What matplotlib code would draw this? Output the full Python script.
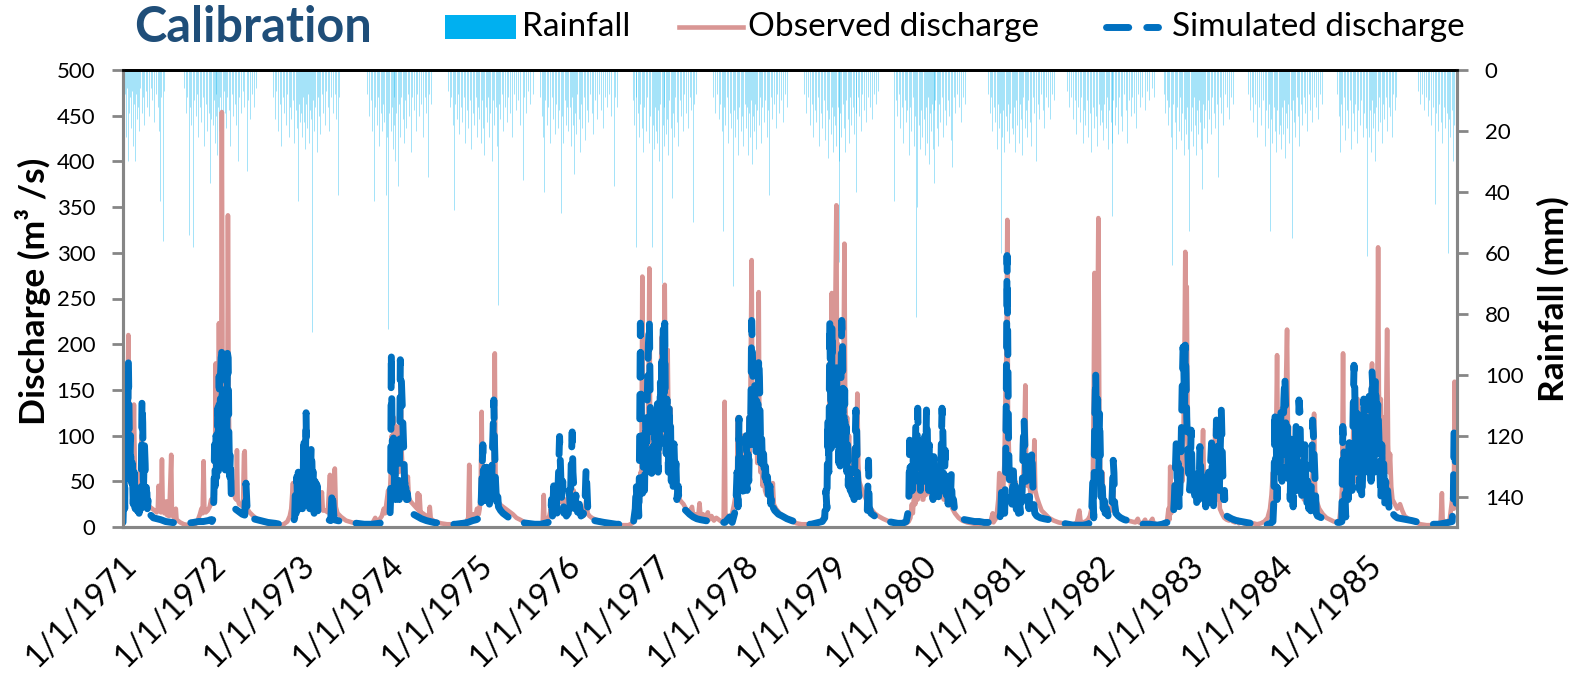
import numpy as np
import pandas as pd
import matplotlib
matplotlib.use("Agg")
import matplotlib.pyplot as plt
from matplotlib.lines import Line2D
from matplotlib.patches import Rectangle
from matplotlib.transforms import ScaledTranslation

plt.rcParams['font.family'] = ['Lato', 'DejaVu Sans']

YEARS = list(range(1971, 1986))
TICK_LABELS = [f"1/1/{y}" for y in YEARS]

# ---------------- Observed discharge (day of year, m3/s) ----------------
OBS_1971 = [(0,35),(4,55),(8,40),(12,90),(16,60),(20,150),(22,210),(25,120),(29,80),(33,60),(37,95),(41,70),(45,134),(49,55),(53,45),(58,35),(62,50),(67,40),(72,70),(77,101),(81,55),(86,40),(92,30),(100,26),(110,22),(120,20),(130,18),(138,16),(143,20),(146,45),(149,18),(156,16),(160,74),(163,25),(170,15),(178,28),(181,13),(190,12),(198,79),(201,14),(210,10),(217,20),(220,8),(235,5),(250,3),(270,2),(290,2),(300,4),(308,8),(316,14),(322,20),(327,15),(331,72),(334,22),(340,16),(348,18),(356,22),(362,30)]
OBS_1972 = [(0,25),(4,30),(8,50),(12,35),(16,179),(19,60),(23,120),(26,90),(29,223),(32,110),(35,150),(38,100),(41,454),(44,160),(47,120),(50,100),(53,180),(56,90),(60,120),(63,80),(66,341),(69,140),(72,90),(76,70),(80,55),(85,45),(90,40),(95,32),(100,30),(103,84),(106,30),(112,25),(120,24),(128,22),(132,80),(135,83),(138,25),(145,20),(155,16),(170,12),(185,9),(205,6),(230,4),(255,3),(275,2),(295,3),(310,6),(320,12),(326,20),(333,48),(337,18),(343,28),(350,40),(355,30),(360,45)]
OBS_1973 = [(0,40),(4,55),(8,35),(12,60),(16,45),(20,75),(24,50),(28,70),(32,40),(36,55),(40,35),(45,50),(50,30),(56,40),(62,25),(70,22),(78,20),(86,38),(90,18),(100,18),(110,16),(119,57),(123,20),(130,25),(139,64),(143,22),(150,15),(165,11),(185,7),(210,5),(235,3),(260,2),(280,2),(295,5),(305,10),(312,6),(322,8),(332,12),(340,20),(346,15),(352,28),(358,40),(362,30)]
OBS_1974 = [(0,35),(4,60),(8,100),(12,70),(16,120),(20,90),(24,110),(28,70),(32,90),(36,60),(40,100),(45,161),(49,80),(53,60),(58,50),(63,45),(68,40),(74,55),(78,32),(85,28),(95,25),(105,22),(112,20),(115,37),(118,18),(122,35),(126,16),(135,15),(145,13),(160,11),(164,22),(168,9),(185,6),(210,4),(235,3),(260,3),(280,3),(295,5),(305,4),(315,6),(322,10),(326,68),(330,12),(338,10),(345,14),(352,12),(358,20),(362,18)]
OBS_1975 = [(0,14),(4,20),(8,40),(12,126),(15,50),(19,35),(23,60),(27,40),(31,55),(35,30),(40,50),(45,35),(50,45),(55,30),(60,70),(64,100),(66,190),(69,60),(73,35),(80,28),(90,24),(100,22),(110,20),(125,17),(140,14),(155,10),(170,8),(190,5),(210,3),(235,2),(255,2),(263,5),(267,35),(270,6),(280,8),(290,12),(296,20),(300,15),(306,35),(312,25),(318,40),(324,20),(330,45),(336,28),(342,40),(348,22),(355,30),(361,20)]
OBS_1976 = [(0,25),(5,35),(10,20),(15,45),(20,30),(25,40),(30,20),(38,25),(45,15),(55,14),(65,12),(72,20),(78,33),(82,15),(90,12),(100,10),(115,8),(130,7),(150,5),(170,4),(190,3),(210,2),(230,2),(250,2),(265,4),(275,8),(285,12),(292,30),(296,20),(300,60),(303,40),(307,274),(310,80),(314,60),(318,100),(322,70),(326,120),(330,90),(333,170),(336,283),(339,110),(343,80),(347,120),(351,70),(355,100),(359,60),(363,80)]
OBS_1977 = [(0,70),(4,110),(8,60),(12,90),(16,150),(20,208),(24,100),(28,140),(33,265),(37,120),(41,90),(45,194),(49,100),(53,80),(57,130),(61,70),(66,90),(71,50),(76,60),(82,40),(88,45),(94,30),(100,28),(110,25),(120,20),(127,18),(135,16),(145,22),(150,12),(160,14),(170,10),(176,26),(180,12),(190,14),(200,9),(210,16),(215,8),(225,12),(235,7),(245,10),(255,8),(265,6),(275,8),(279,137),(282,15),(290,10),(300,8),(310,15),(318,25),(324,35),(330,60),(333,120),(336,45),(340,70),(344,40),(348,80),(352,50),(356,100),(360,60),(363,90)]
OBS_1978 = [(0,60),(4,90),(8,50),(12,120),(16,80),(20,150),(25,292),(28,120),(32,90),(36,150),(40,100),(44,130),(48,70),(51,110),(54,257),(57,100),(61,60),(65,80),(70,45),(75,60),(80,40),(86,35),(92,45),(98,30),(104,38),(108,28),(112,48),(116,25),(125,20),(140,15),(155,12),(170,9),(190,6),(210,4),(230,3),(250,3),(270,2),(290,3),(305,5),(315,8),(325,15),(333,30),(338,60),(342,100),(346,180),(350,130),(354,256),(358,150),(362,200)]
OBS_1979 = [(0,120),(4,250),(8,352),(11,150),(15,200),(19,120),(23,160),(27,110),(31,180),(35,140),(38,200),(41,310),(44,150),(48,100),(52,120),(56,80),(60,100),(65,60),(70,70),(75,50),(80,60),(85,45),(90,80),(94,146),(98,70),(102,50),(108,45),(115,40),(122,35),(130,30),(140,25),(150,20),(165,15),(180,12),(200,9),(225,6),(250,4),(270,3),(287,5),(295,4),(305,6),(312,10),(318,25),(322,15),(328,40),(332,25),(338,55),(342,30),(348,60),(352,35),(358,50),(362,30)]
OBS_1980 = [(0,30),(5,45),(10,35),(15,60),(20,40),(25,55),(30,35),(35,50),(40,30),(45,45),(50,35),(55,60),(60,40),(66,55),(72,35),(78,50),(84,30),(90,45),(96,28),(102,40),(107,55),(112,25),(120,20),(130,15),(145,10),(160,7),(180,5),(200,4),(220,3),(240,4),(260,3),(275,5),(285,15),(288,5),(300,10),(308,30),(312,59),(316,20),(322,25),(328,40),(333,70),(338,150),(342,200),(345,336),(348,120),(352,80),(356,60),(360,45),(364,40)]
OBS_1981 = [(0,40),(4,60),(8,35),(12,50),(16,30),(22,40),(28,30),(35,45),(42,35),(48,80),(53,155),(57,60),(62,45),(68,50),(75,35),(82,45),(87,60),(90,95),(94,40),(100,33),(110,25),(120,18),(135,14),(150,10),(170,7),(190,5),(210,4),(230,3),(250,3),(265,5),(270,12),(275,18),(280,6),(295,5),(310,8),(318,12),(325,20),(330,45),(334,150),(337,278),(341,120),(345,100),(349,200),(353,338),(357,120),(361,60)]
OBS_1982 = [(0,40),(4,60),(8,35),(12,30),(18,25),(25,22),(32,20),(40,18),(46,25),(49,40),(52,18),(60,15),(70,12),(80,10),(95,8),(110,7),(125,6),(140,5),(150,9),(155,5),(170,4),(180,8),(185,4),(200,5),(210,9),(215,4),(230,3),(245,3),(260,3),(270,6),(276,20),(280,8),(283,66),(287,15),(292,20),(298,35),(303,20),(308,50),(313,30),(318,60),(323,35),(328,90),(333,50),(338,110),(342,200),(345,301),(348,150),(351,263),(355,100),(359,70),(363,55)]
OBS_1983 = [(0,45),(5,70),(10,40),(15,60),(20,35),(26,55),(32,30),(38,50),(44,35),(49,70),(53,106),(57,45),(62,35),(67,55),(72,30),(78,45),(84,30),(90,40),(96,30),(100,70),(103,108),(107,40),(112,30),(118,48),(122,20),(130,15),(140,10),(150,8),(160,7),(170,10),(175,6),(185,5),(195,8),(200,4),(210,6),(220,4),(232,3),(245,3),(260,4),(275,3),(290,4),(305,6),(318,10),(328,20),(334,35),(340,60),(345,30),(350,70),(354,120),(357,188),(361,60)]
OBS_1984 = [(0,70),(4,100),(8,60),(12,130),(16,80),(20,120),(24,60),(28,150),(33,216),(37,90),(41,110),(45,60),(50,90),(55,45),(60,70),(65,40),(70,55),(74,70),(78,95),(82,45),(88,35),(95,45),(102,30),(110,40),(118,30),(125,35),(132,28),(138,60),(144,124),(148,40),(155,28),(165,20),(180,14),(195,10),(210,8),(225,6),(238,5),(248,8),(255,25),(259,45),(263,190),(266,60),(270,35),(275,50),(280,30),(286,60),(290,35),(295,80),(300,45),(305,110),(309,60),(314,90),(318,50),(323,140),(327,70),(332,100),(336,60),(341,130),(345,80),(350,110),(354,70),(358,120),(362,80)]
OBS_1985 = [(0,80),(4,130),(8,90),(12,150),(16,179),(20,90),(24,120),(28,70),(32,140),(36,100),(39,200),(41,306),(44,150),(48,100),(52,140),(56,80),(60,120),(64,70),(68,100),(72,60),(75,150),(78,216),(82,90),(86,60),(90,80),(95,44),(100,30),(110,25),(120,20),(131,25),(140,18),(150,12),(160,10),(175,7),(195,5),(215,3),(240,2),(265,2),(285,3),(298,6),(303,37),(306,8),(320,5),(335,8),(345,30),(349,45),(352,20),(355,159),(359,100),(364,60)]

# ---------------- Simulated discharge (day of year, m3/s) ----------------
SIM_1971 = [(0,5),(2,25),(4,60),(7,20),(10,100),(13,50),(16,150),(19,80),(22,183),(25,120),(28,60),(31,100),(34,40),(38,70),(42,25),(46,60),(50,20),(54,45),(58,18),(62,35),(66,15),(70,40),(74,20),(78,139),(81,114),(84,40),(88,91),(91,69),(94,30),(97,50),(100,20),(104,30),(110,14),(125,10),(140,9),(155,8),(175,6),(200,5),(230,4),(260,4),(290,5),(310,6),(330,6),(350,7),(360,8)]
SIM_1972 = [(0,6),(4,8),(8,30),(11,90),(14,45),(17,100),(20,50),(24,130),(27,60),(30,165),(33,100),(36,170),(40,198),(43,120),(46,150),(49,90),(52,130),(55,60),(58,110),(61,80),(64,190),(67,185),(70,100),(73,55),(76,80),(80,30),(84,22),(95,20),(105,18),(115,16),(125,14),(135,13),(140,48),(144,24),(148,12),(170,9),(200,7),(230,5),(260,4),(280,3),(300,4),(320,5),(336,6),(340,10),(343,40),(346,15),(349,55),(352,25),(355,60),(358,30),(361,50),(364,20)]
SIM_1973 = [(0,40),(3,60),(6,20),(9,55),(12,100),(15,40),(18,70),(21,125),(24,50),(27,80),(30,30),(33,65),(36,20),(39,55),(42,88),(45,70),(48,30),(51,60),(54,15),(58,50),(62,20),(66,55),(70,12),(80,10),(95,9),(110,8),(122,7),(128,40),(132,25),(136,8),(150,7),(170,6),(200,5),(230,4),(260,3),(290,3),(320,4),(340,5),(355,7),(362,8)]
SIM_1974 = [(0,8),(3,30),(6,192),(9,110),(12,60),(15,100),(18,40),(21,85),(24,30),(27,60),(31,35),(35,50),(39,30),(43,183),(46,170),(49,148),(52,125),(55,100),(58,77),(61,45),(64,55),(68,30),(72,37),(76,26),(80,20),(90,15),(110,12),(130,9),(150,7),(180,5),(210,4),(240,3),(270,3),(300,4),(320,5),(340,7),(355,8),(362,9)]
SIM_1975 = [(0,10),(5,14),(10,25),(14,60),(17,90),(20,40),(24,65),(28,25),(32,70),(36,45),(40,55),(44,25),(48,60),(52,30),(56,80),(59,106),(62,139),(65,90),(69,50),(73,28),(77,40),(81,22),(90,18),(100,15),(120,11),(140,8),(170,5),(200,4),(230,3),(255,3),(270,4),(285,5),(295,8),(299,30),(303,12),(308,45),(313,20),(318,35),(322,15),(328,60),(332,99),(336,66),(340,30),(345,50),(350,15),(355,20),(360,12)]
SIM_1976 = [(3,15),(7,40),(11,20),(15,70),(19,104),(22,60),(26,42),(30,20),(34,35),(40,15),(48,25),(55,12),(65,14),(72,30),(76,64),(80,40),(84,12),(95,9),(110,7),(130,6),(150,5),(175,4),(200,3),(230,3),(255,2),(270,4),(278,20),(282,48),(286,10),(290,30),(293,10),(296,100),(299,223),(302,150),(305,60),(308,37),(312,80),(316,40),(320,120),(324,60),(328,150),(332,200),(336,226),(339,146),(342,90),(346,50),(350,120),(354,70),(358,100),(362,60)]
SIM_1977 = [(0,80),(3,140),(6,60),(9,120),(12,90),(15,160),(18,110),(21,190),(24,140),(27,221),(30,146),(33,223),(36,120),(39,80),(42,140),(45,100),(48,60),(51,135),(54,73),(57,110),(60,50),(63,80),(67,40),(71,91),(75,55),(79,70),(83,30),(88,45),(92,25),(100,22),(110,20),(120,18),(135,14),(150,11),(165,9),(180,8),(200,7),(220,6),(240,5),(260,5),(280,5),(290,8),(300,11),(310,5),(320,15),(326,30),(330,60),(334,22),(338,119),(341,60),(345,40),(349,70),(353,30),(357,50),(361,80)]
SIM_1978 = [(0,60),(3,100),(6,40),(10,80),(13,50),(17,120),(20,90),(23,160),(25,226),(28,194),(31,146),(34,110),(37,160),(40,120),(43,80),(46,140),(50,100),(54,186),(57,164),(60,120),(63,70),(66,100),(70,60),(74,80),(78,50),(82,66),(86,40),(90,55),(95,30),(100,45),(104,25),(108,35),(112,22),(120,18),(135,14),(150,12),(170,9),(190,7),(210,5),(230,4),(250,3),(270,3),(285,4),(300,5),(315,6),(325,10),(330,40),(334,20),(338,120),(342,60),(346,226),(349,150),(352,80),(355,220),(358,100),(362,140)]
SIM_1979 = [(0,90),(3,160),(6,110),(9,180),(12,90),(15,140),(18,70),(21,120),(24,60),(27,160),(30,226),(33,200),(36,130),(39,100),(42,150),(45,80),(48,110),(51,60),(54,90),(57,45),(61,70),(65,40),(69,60),(73,35),(77,55),(81,30),(85,90),(88,128),(91,113),(94,60),(98,40),(102,30),(108,25),(115,22),(125,20),(135,18),(140,73),(143,22),(150,15),(165,12),(180,10),(200,8),(220,6),(240,5),(260,4),(280,4),(295,6),(305,20),(309,95),(312,30),(316,70),(320,40),(325,90),(330,50),(334,110),(338,60),(342,130),(345,90),(349,70),(353,40),(357,80),(361,50)]
SIM_1980 = [(0,80),(3,50),(7,100),(10,60),(13,128),(16,113),(19,60),(22,40),(25,90),(28,50),(31,75),(34,35),(37,60),(40,30),(43,77),(46,44),(50,60),(54,30),(58,50),(62,25),(66,70),(70,40),(74,95),(77,130),(80,110),(83,60),(86,40),(90,84),(94,35),(98,55),(102,25),(106,50),(110,20),(115,58),(119,26),(124,30),(130,15),(138,12),(150,10),(170,8),(190,7),(210,6),(230,6),(250,5),(270,5),(290,4),(310,4),(318,15),(322,44),(326,20),(330,35),(334,15),(338,60),(341,150),(344,297),(347,200),(350,100),(353,55),(356,40),(360,30),(364,25)]
SIM_1981 = [(0,40),(4,62),(8,30),(12,45),(16,19),(20,30),(25,15),(30,25),(35,12),(40,40),(44,90),(48,117),(52,80),(56,50),(60,77),(64,30),(68,20),(72,40),(76,60),(80,84),(84,44),(88,25),(92,15),(100,12),(115,10),(130,9),(150,8),(170,6),(190,5),(210,4),(230,3),(250,2),(270,2),(290,2),(310,3),(320,5),(326,20),(330,50),(334,10),(338,120),(342,168),(346,80),(350,140),(354,55),(358,124),(362,73)]
SIM_1982 = [(0,30),(4,45),(8,20),(12,35),(16,15),(22,20),(28,12),(35,11),(42,15),(46,44),(49,73),(52,59),(55,25),(60,15),(70,12),(80,10),(95,8),(110,7),(125,6),(140,5),(152,4),(175,3),(200,3),(230,2),(250,3),(270,5),(285,6),(295,7),(300,30),(304,60),(308,95),(312,40),(316,70),(320,20),(324,50),(328,90),(332,150),(336,197),(339,175),(342,130),(345,199),(348,168),(351,120),(354,95),(358,60),(362,40)]
SIM_1983 = [(0,50),(4,106),(8,60),(12,37),(16,50),(20,26),(24,45),(28,20),(32,60),(36,30),(40,88),(44,62),(48,35),(52,55),(56,26),(60,40),(64,22),(68,50),(72,30),(76,60),(80,25),(84,70),(88,92),(92,40),(96,22),(100,80),(104,50),(108,117),(111,113),(114,84),(117,51),(120,40),(124,90),(128,128),(131,92),(134,60),(138,30),(141,40),(144,15),(150,12),(170,9),(190,7),(210,6),(230,5),(250,4),(270,3),(290,3),(310,2),(320,3),(330,4),(340,6),(344,30),(348,128),(351,60),(354,90),(357,30),(361,70)]
SIM_1984 = [(0,120),(4,70),(8,128),(12,50),(16,90),(20,140),(24,165),(27,132),(30,80),(34,110),(38,45),(42,90),(46,30),(50,99),(54,60),(58,22),(62,70),(66,40),(70,110),(74,73),(78,40),(82,139),(86,125),(90,60),(94,30),(98,80),(102,45),(106,90),(110,55),(114,25),(118,50),(122,20),(126,35),(130,15),(134,60),(138,117),(141,103),(144,80),(147,55),(150,37),(153,15),(158,12),(175,10),(195,8),(215,6),(235,5),(250,5),(258,6),(262,110),(265,95),(268,73),(271,37),(274,11),(280,60),(284,30),(288,100),(292,50),(296,80),(300,40),(304,120),(308,177),(311,154),(314,100),(318,60),(322,124),(325,110),(328,70),(332,40),(336,90),(340,30),(344,60),(348,140),(352,95),(356,60),(360,120),(364,80)]
SIM_1985 = [(0,60),(4,143),(8,95),(12,50),(16,170),(19,154),(22,100),(26,60),(30,161),(33,139),(36,80),(40,135),(44,99),(48,60),(52,30),(56,90),(60,40),(64,70),(68,25),(72,50),(76,30),(80,40),(86,20),(92,25),(100,15),(110,12),(120,10),(140,9),(160,8),(180,7),(195,6),(210,5),(230,4),(250,3),(270,3),(290,3),(310,4),(330,5),(345,6),(350,30),(353,110),(356,95),(359,60),(362,20),(364,10)]

# ---------------- Rainfall (day of year, mm) ----------------
RAIN_1971 = [(2,12),(6,18),(10,8),(14,22),(17,6),(20,30),(24,14),(28,9),(32,19),(36,7),(40,25),(44,11),(49,30),(53,8),(57,16),(61,12),(66,20),(71,6),(76,14),(82,9),(88,18),(94,7),(100,12),(107,15),(114,6),(121,10),(128,17),(135,8),(142,12),(148,20),(152,43),(158,9),(164,56),(170,7),(252,6),(258,14),(264,9),(270,54),(275,12),(280,18),(287,58),(292,10),(298,15),(304,8),(310,22),(316,12),(322,17),(328,9),(334,25),(340,11),(346,20),(352,14),(357,37),(362,16)]
RAIN_1972 = [(3,18),(7,10),(11,24),(15,8),(19,15),(23,28),(27,12),(31,20),(35,9),(39,16),(44,22),(49,7),(54,14),(59,19),(64,9),(70,13),(76,25),(82,8),(88,15),(95,11),(101,18),(107,30),(113,9),(120,14),(127,7),(134,12),(143,33),(150,10),(158,16),(166,8),(175,12),(182,6),(252,9),(258,16),(265,7),(272,20),(278,11),(285,25),(291,9),(297,14),(303,18),(309,8),(315,22),(321,12),(327,16),(333,10),(339,24),(345,13),(349,19),(353,43),(358,11),(363,17)]
RAIN_1973 = [(2,14),(6,22),(10,9),(14,17),(18,26),(22,11),(26,19),(30,8),(34,24),(38,13),(42,16),(45,86),(49,10),(54,20),(59,12),(64,27),(69,9),(74,15),(80,21),(86,8),(92,14),(98,18),(104,7),(110,12),(117,20),(124,9),(131,14),(138,8),(145,16),(152,41),(158,9),(272,8),(279,15),(286,10),(292,20),(300,43),(305,12),(311,18),(317,9),(322,25),(328,14),(333,20),(338,11),(343,17),(349,41),(353,22),(357,85),(361,14)]
RAIN_1974 = [(3,20),(7,12),(11,26),(15,9),(19,18),(23,30),(27,14),(33,38),(37,11),(42,22),(47,9),(52,16),(57,24),(62,10),(68,19),(74,8),(80,15),(86,27),(92,9),(99,13),(106,20),(113,8),(120,15),(128,11),(136,22),(144,9),(150,14),(156,35),(162,8),(170,11),(238,7),(245,12),(252,9),(258,18),(262,46),(268,11),(274,16),(280,8),(286,21),(292,12),(298,17),(304,9),(310,24),(316,13),(322,19),(328,10),(334,26),(340,14),(346,18),(352,9),(358,22),(363,12)]
RAIN_1975 = [(3,16),(8,24),(13,10),(18,19),(23,28),(28,12),(33,17),(38,9),(43,22),(48,14),(53,30),(58,10),(63,18),(69,12),(74,25),(78,77),(83,11),(89,16),(95,8),(101,20),(108,12),(115,17),(122,9),(130,14),(138,22),(146,8),(154,13),(162,10),(170,18),(180,36),(188,9),(196,14),(204,7),(212,11),(222,8),(250,9),(258,15),(264,22),(267,40),(272,10),(279,18),(286,12),(293,24),(300,9),(306,16),(312,21),(318,11),(324,19),(330,13),(336,47),(341,15),(347,24),(353,10),(359,18),(364,12)]
RAIN_1976 = [(3,20),(8,12),(13,25),(18,9),(22,18),(25,34),(30,14),(35,21),(40,8),(45,16),(50,27),(55,11),(61,19),(67,9),(73,23),(79,13),(85,17),(92,8),(99,14),(106,21),(113,10),(120,16),(128,8),(136,13),(145,19),(153,9),(161,12),(170,8),(180,15),(189,38),(196,9),(204,12),(268,10),(274,18),(279,9),(283,58),(288,14),(293,22),(298,11),(304,19),(310,27),(315,12),(321,20),(327,9),(333,24),(339,15),(345,58),(350,18),(355,26),(360,12),(364,20)]
RAIN_1977 = [(3,24),(7,13),(11,30),(15,11),(20,70),(24,18),(28,25),(32,12),(37,21),(42,16),(47,28),(52,10),(57,19),(61,42),(66,14),(71,22),(76,9),(82,17),(88,25),(94,10),(100,15),(107,20),(114,8),(121,14),(128,19),(135,9),(142,13),(148,50),(154,11),(160,8),(232,9),(240,14),(248,8),(255,16),(262,11),(267,20),(271,53),(276,12),(282,18),(288,9),(294,24),(300,14),(306,19),(312,71),(317,13),(322,22),(328,16),(334,28),(340,12),(346,20),(351,15),(356,25),(361,11)]
RAIN_1978 = [(3,19),(7,12),(11,28),(15,14),(19,22),(23,10),(27,31),(31,15),(35,20),(39,11),(44,26),(49,13),(54,18),(59,9),(64,24),(69,12),(74,17),(80,10),(86,22),(92,13),(98,41),(104,9),(110,16),(117,11),(124,19),(131,8),(138,14),(146,10),(154,17),(162,8),(170,12),(242,8),(250,14),(258,9),(265,18),(272,11),(279,22),(285,13),(291,17),(297,9),(303,25),(309,14),(315,19),(321,10),(327,23),(333,13),(339,29),(344,16),(349,21),(354,12),(359,27),(364,15)]
RAIN_1979 = [(3,18),(8,25),(13,12),(17,30),(20,63),(24,14),(29,22),(34,11),(39,19),(44,27),(49,10),(54,16),(59,24),(64,9),(70,18),(76,12),(82,21),(88,14),(90,40),(95,9),(101,15),(108,20),(115,8),(122,13),(130,17),(138,9),(146,12),(154,16),(162,8),(170,11),(180,7),(246,43),(252,10),(258,15),(264,8),(270,19),(276,12),(282,24),(288,10),(294,17),(300,13),(306,28),(311,12),(316,20),(321,9),(326,25),(331,15),(336,81),(341,45),(346,18),(351,26),(356,13),(361,22)]
RAIN_1980 = [(2,16),(6,28),(10,12),(14,24),(18,9),(22,31),(26,14),(30,20),(34,11),(38,26),(42,13),(45,37),(50,10),(55,19),(60,25),(65,11),(70,17),(76,9),(82,22),(88,13),(94,18),(100,10),(106,15),(112,23),(119,32),(125,9),(132,14),(140,8),(148,12),(156,17),(164,9),(172,11),(265,8),(272,14),(278,9),(284,20),(290,12),(296,17),(302,26),(307,11),(312,19),(316,14),(320,60),(324,22),(328,13),(333,27),(338,15),(343,20),(348,11),(353,24),(358,14),(363,19)]
RAIN_1981 = [(3,21),(7,12),(11,27),(15,10),(20,18),(25,24),(30,11),(35,16),(40,28),(45,9),(50,19),(55,13),(60,22),(66,10),(72,17),(78,25),(84,9),(90,14),(98,30),(104,11),(110,16),(117,8),(124,13),(131,19),(138,9),(146,12),(154,16),(162,8),(172,10),(224,7),(232,12),(240,9),(248,16),(256,10),(263,21),(270,12),(276,17),(282,9),(288,24),(294,13),(300,18),(306,10),(312,22),(318,14),(324,27),(330,12),(336,19),(342,15),(348,25),(354,11),(359,18),(364,13)]
RAIN_1982 = [(3,17),(8,23),(13,11),(18,19),(23,9),(28,26),(33,13),(38,17),(42,24),(45,48),(50,10),(56,18),(62,12),(68,21),(74,9),(80,15),(87,20),(94,8),(100,13),(107,24),(114,10),(121,15),(128,9),(136,14),(144,19),(152,8),(160,12),(168,9),(178,13),(188,7),(198,10),(208,6),(218,9),(256,8),(262,14),(268,10),(274,18),(280,12),(286,22),(291,64),(296,11),(302,17),(308,26),(313,12),(318,20),(323,9),(328,23),(333,14),(338,28),(343,16),(348,21),(353,12),(357,26),(361,53)]
RAIN_1983 = [(3,20),(7,12),(11,25),(15,9),(19,18),(23,28),(27,13),(31,21),(35,10),(39,17),(44,26),(49,39),(53,11),(58,19),(63,13),(68,24),(73,10),(79,16),(85,21),(91,9),(97,14),(103,19),(109,11),(115,35),(121,9),(128,14),(135,18),(142,8),(150,12),(158,16),(166,9),(174,11),(236,8),(244,13),(252,9),(260,17),(268,11),(276,22),(284,12),(292,18),(300,10),(306,25),(312,13),(318,19),(323,11),(328,53),(333,16),(338,24),(343,12),(348,20),(353,27),(358,13),(363,21)]
RAIN_1984 = [(3,18),(7,26),(11,12),(15,21),(19,10),(24,29),(28,14),(33,19),(38,11),(43,24),(48,13),(53,55),(57,10),(62,17),(67,22),(72,9),(78,15),(84,25),(90,11),(96,18),(102,9),(108,14),(115,20),(122,8),(129,13),(136,17),(144,9),(152,12),(160,16),(168,8),(176,11),(240,8),(246,15),(250,27),(255,11),(260,18),(266,9),(272,23),(278,13),(284,19),(290,10),(296,26),(302,14),(308,20),(314,11),(320,24),(326,13),(332,18),(338,10),(344,22),(350,14),(356,19),(361,61)]
RAIN_1985 = [(3,22),(7,13),(11,27),(15,10),(19,19),(24,14),(29,30),(34,12),(39,20),(44,9),(49,17),(55,24),(61,11),(67,16),(73,9),(79,20),(85,12),(91,15),(98,22),(104,8),(110,13),(116,9),(203,7),(212,11),(220,8),(228,13),(236,9),(244,15),(252,10),(260,18),(267,12),(275,44),(280,14),(286,20),(292,11),(298,17),(304,24),(310,12),(316,19),(322,14),(328,60),(333,16),(338,22),(343,13),(349,30),(354,18),(359,25),(364,14)]

OBS = [OBS_1971, OBS_1972, OBS_1973, OBS_1974, OBS_1975, OBS_1976, OBS_1977, OBS_1978,
       OBS_1979, OBS_1980, OBS_1981, OBS_1982, OBS_1983, OBS_1984, OBS_1985]
SIM = [SIM_1971, SIM_1972, SIM_1973, SIM_1974, SIM_1975, SIM_1976, SIM_1977, SIM_1978,
       SIM_1979, SIM_1980, SIM_1981, SIM_1982, SIM_1983, SIM_1984, SIM_1985]
RAIN = [RAIN_1971, RAIN_1972, RAIN_1973, RAIN_1974, RAIN_1975, RAIN_1976, RAIN_1977, RAIN_1978,
        RAIN_1979, RAIN_1980, RAIN_1981, RAIN_1982, RAIN_1983, RAIN_1984, RAIN_1985]


def build(year_lists):
    dates, vals = [], []
    for y, pts in zip(YEARS, year_lists):
        base = pd.Timestamp(year=y, month=1, day=1)
        for d, v in pts:
            dates.append(base + pd.Timedelta(days=d))
            vals.append(v)
    return pd.DatetimeIndex(dates), np.array(vals, dtype=float)


obs_t, obs_q = build(OBS)
sim_t, sim_q = build(SIM)
rain_t, rain_mm = build(RAIN)

W, H = 1585, 678
fig = plt.figure(figsize=(W / 100, H / 100), dpi=100)
L, R, T, B = 123, 1457, 70, 527
ax = fig.add_axes([L / W, 1 - B / H, (R - L) / W, (B - T) / H])
ax2 = ax.twinx()
ax.set_zorder(ax2.get_zorder() + 1)
ax.patch.set_visible(False)

# rainfall hanging from top (secondary, reversed axis)
ax2.vlines(rain_t, 0, rain_mm, color='#00B0F0', lw=0.6, alpha=0.42)
ax2.set_ylim(150, 0)
ax2.set_yticks(range(0, 141, 20))

# discharge
ax.plot(obs_t, obs_q, color='#D99694', lw=3.3, solid_joinstyle='round')
ax.plot(sim_t, sim_q, color='#0070C0', lw=5, dashes=(3.5, 2.5),
        dash_capstyle='round', dash_joinstyle='round')
ax.set_ylim(0, 500)
ax.set_yticks(range(0, 501, 50))

ax.set_xlim(pd.Timestamp('1971-01-01'), pd.Timestamp('1986-01-01'))
ticks = [pd.Timestamp(year=y, month=1, day=1) for y in YEARS]
ax.set_xticks(ticks)
ax.set_xticklabels(TICK_LABELS, rotation=45, ha='right', va='top',
                   rotation_mode='anchor', fontsize=23.5)
ax.tick_params(axis='x', length=0, pad=16.5)
off = ScaledTranslation(-2 / 100, 0, fig.dpi_scale_trans)
for lab in ax.get_xticklabels():
    lab.set_transform(lab.get_transform() + off)

gray = '#868686'
ax.tick_params(axis='y', length=8, width=2, color=gray, labelsize=16, pad=12)
ax2.tick_params(axis='y', length=8, width=2, color=gray, labelsize=16, pad=12)
for a in (ax, ax2):
    for s in ('left', 'right', 'bottom'):
        a.spines[s].set_color(gray)
        a.spines[s].set_linewidth(2.2)
    a.spines['top'].set_color('black')
    a.spines['top'].set_linewidth(2.0)

# axis titles
fig.text(33 / W, 1 - 291 / H, 'Discharge (m³ /s)', rotation=90, ha='center', va='center',
         fontsize=25.5, fontweight='bold')
fig.text(1553 / W, 1 - 299 / H, 'Rainfall (mm)', rotation=90, ha='center', va='center',
         fontsize=25.5, fontweight='bold')

# title
fig.text(134 / W, 1 - 27 / H, 'Calibration', fontsize=35, fontweight='bold',
         color='#1F4E79', ha='left', va='center')

# legend (drawn in figure pixel coordinates)
ly = 1 - 27 / H
fig.add_artist(Rectangle((445 / W, 1 - 39 / H), 71 / W, 24 / H, transform=fig.transFigure,
                         facecolor='#00B0F0', edgecolor='none'))
fig.text(522 / W, ly, 'Rainfall', fontsize=24, ha='left', va='center')
fig.add_artist(Line2D([679 / W, 743 / W], [ly, ly], transform=fig.transFigure,
                      color='#D99694', lw=3.3))
fig.text(748 / W, ly, 'Observed discharge', fontsize=24, ha='left', va='center')
fig.add_artist(Line2D([1106 / W, 1158 / W], [ly, ly], transform=fig.transFigure,
                      color='#0070C0', lw=5, dashes=(3.2, 2.6), dash_capstyle='round'))
fig.text(1172 / W, ly, 'Simulated discharge', fontsize=24, ha='left', va='center')

fig.savefig('out.png', dpi=100)
